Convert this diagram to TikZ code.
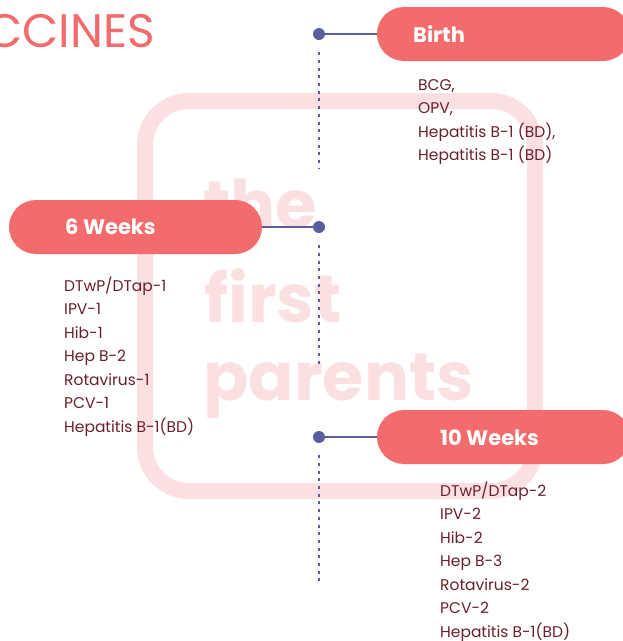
\documentclass[tikz,border=0pt]{standalone}
\usepackage{fontspec}
\setmainfont{Poppins}
\usetikzlibrary{positioning}

\definecolor{coral}{HTML}{F26B6D}
\definecolor{slate}{HTML}{5A5E9E}
\definecolor{maroon}{HTML}{6B1F2B}
\definecolor{blush}{HTML}{FBE0E2}

\begin{document}
\begin{tikzpicture}[x=1pt, y=-1pt]
        \tikzset{
          dot/.style={circle, fill=slate, inner sep=0pt, minimum size=12pt},
          pill/.style={fill=coral, rounded corners=27pt, minimum height=54pt, minimum width=253pt, inner sep=0pt},
          pilltext/.style={anchor=base west, inner sep=0pt, text=white, font=\fontsize{21}{21}\selectfont\bfseries},
          % base of a multi-line node is its last line
          doses/.style={anchor=base west, inner sep=0pt, align=left, text=maroon, font=\fontsize{15.5}{23.5}\selectfont},
          wmtext/.style={anchor=base west, inner sep=0pt, text=blush, font=\fontsize{67}{67}\selectfont\bfseries},
          link/.style={draw=slate, line width=2pt},
          dotline/.style={draw=slate, line width=2.4pt, dash pattern=on 3pt off 4.7pt}
        }
        \useasboundingbox (0,0) rectangle (623,641);
        \clip (0,0) rectangle (623,641);

        % watermark behind everything
        \draw[blush, line width=16pt, rounded corners=44pt] (145,101) rectangle (535,491);
        \node[wmtext] (wm_0) at (203,228) {the};
        \node[wmtext] (wm_1) at (204,322) {first};
        \node[wmtext] (wm_2) at (203,400) {parents};

        \node[anchor=base west, inner sep=0pt, text=coral, font=\fontsize{47}{47}\selectfont] (title) at (-14,47) {CCINES};

        % timeline points
        \node[dot] (dot_0) at (319,34) {};
        \node[dot] (dot_1) at (319,227) {};
        \node[dot] (dot_2) at (319,437) {};
        \coordinate (end_0) at (319,168);
        \coordinate (end_1) at (319,366);
        \coordinate (end_2) at (319,582);

        % age boxes
        \node[pill] (pill_0) at (503.5,34) {};
        \node[pill] (pill_1) at (135.5,227) {};
        \node[pill] (pill_2) at (503.5,437) {};
        \node[pilltext] (age_0) at (413,42) {Birth};
        \node[pilltext] (age_1) at (65,234) {6 Weeks};
        \node[pilltext] (age_2) at (440,445) {10 Weeks};

        \draw[link] (dot_0) -- (pill_0.west);
        \draw[link] (dot_1) -- (pill_1.east);
        \draw[link] (dot_2) -- (pill_2.west);
        \draw[dotline] ([yshift=-12pt]dot_0.south) -- (end_0);
        \draw[dotline] ([yshift=-12pt]dot_1.south) -- (end_1);
        \draw[dotline] ([yshift=-12pt]dot_2.south) -- (end_2);

        % vaccines per age
        \node[doses] (list_0) at (418,160.5) {BCG,\\OPV,\\Hepatitis B-1 (BD),\\Hepatitis B-1 (BD)};
        \node[doses] (list_1) at (64,432) {DTwP/DTap-1\\IPV-1\\Hib-1\\Hep B-2\\Rotavirus-1\\PCV-1\\Hepatitis B-1(BD)};
        \node[doses] (list_2) at (440,637) {DTwP/DTap-2\\IPV-2\\Hib-2\\Hep B-3\\Rotavirus-2\\PCV-2\\Hepatitis B-1(BD)};
\end{tikzpicture}
\end{document}
